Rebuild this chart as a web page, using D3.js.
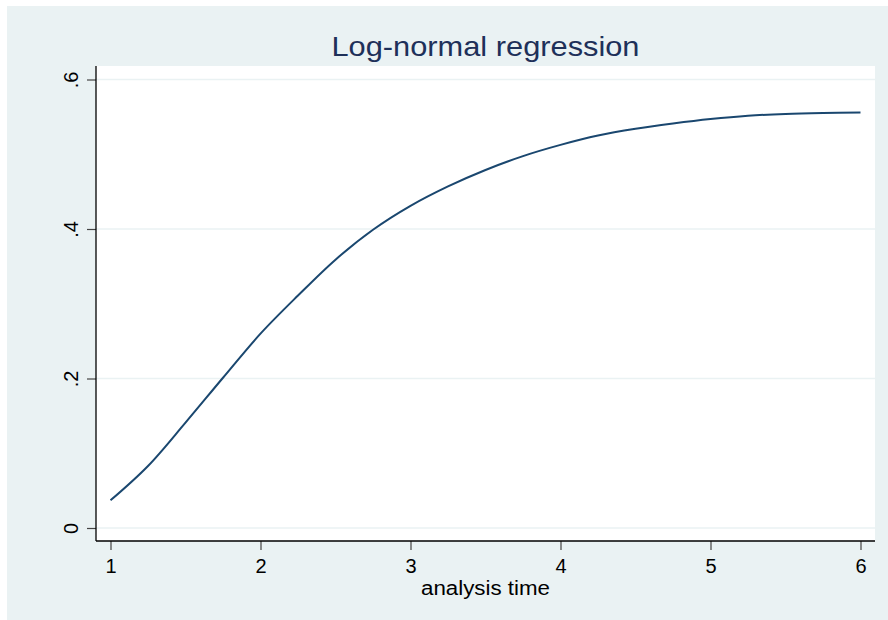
<!DOCTYPE html>
<html>
<head>
<meta charset="utf-8">
<script src="https://cdn.jsdelivr.net/npm/d3@7"></script>
<style>
  body { margin: 0; background: #fff; }
  svg { display: block; font-family: "Liberation Sans", Arial, sans-serif; }
</style>
</head>
<body>
<div id="chart"></div>
<script>
// datos
var tiempo = [1, 1.25, 1.5, 1.75, 2, 2.25, 2.5, 2.75, 3, 3.25, 3.5, 3.75, 4, 4.25, 4.5, 4.75, 5, 5.25, 5.5, 5.75, 6];
var prob = [0.037, 0.083, 0.141, 0.201, 0.26, 0.311, 0.359, 0.399, 0.431, 0.457, 0.479, 0.4975, 0.5125, 0.525, 0.534, 0.541, 0.547, 0.5515, 0.554, 0.5553, 0.556];
var xTicks = [1, 2, 3, 4, 5, 6];
var yTicks = [0, 0.2, 0.4, 0.6];
var yLabels = ["0", ".2", ".4", ".6"];
var titulo = "Log-normal regression";
var xTitulo = "analysis time";

var width = 888, height = 620;
var plot = {left: 96, right: 875, top: 66, bottom: 541};

var svg = d3.select("#chart").append("svg")
  .attr("width", width)
  .attr("height", height);

// fondo del grafico
svg.append("rect")
  .attr("x", 7).attr("y", 6)
  .attr("width", width - 7).attr("height", height - 6)
  .attr("fill", "#eaf2f3");

svg.append("rect")
  .attr("x", plot.left).attr("y", plot.top)
  .attr("width", plot.right - plot.left).attr("height", plot.bottom - plot.top)
  .attr("fill", "#fff");

var x = d3.scaleLinear().domain([1, 6]).range([110.5, 860.5]);
var y = d3.scaleLinear().domain([0, 0.6]).range([528, 79.5]);

// rejilla
svg.append("g").selectAll("line")
  .data(yTicks)
  .enter()
  .append("line")
  .attr("x1", plot.left).attr("x2", plot.right)
  .attr("y1", function(d) { return y(d); })
  .attr("y2", function(d) { return y(d); })
  .attr("stroke", "#eaf2f3")
  .attr("stroke-width", 1.5);

// eje x
var xAxis = d3.axisBottom(x).tickValues(xTicks).tickSize(9).tickPadding(9).tickFormat(d3.format("d"));
var gx = svg.append("g")
  .attr("transform", "translate(0," + plot.bottom + ")")
  .call(xAxis);
gx.select(".domain").remove();
gx.selectAll(".tick line").attr("stroke", "#444").attr("stroke-width", 1.2);
gx.selectAll(".tick text").attr("font-size", 20).attr("fill", "#000").attr("font-family", "Liberation Sans, Arial, sans-serif");

// eje y
var yAxis = d3.axisLeft(y).tickValues(yTicks).tickSize(9).tickPadding(8)
  .tickFormat(function(d, i) { return yLabels[i]; });
var gy = svg.append("g")
  .attr("transform", "translate(" + plot.left + ",0)")
  .call(yAxis);
gy.select(".domain").remove();
gy.selectAll(".tick line").attr("stroke", "#444").attr("stroke-width", 1.2);
gy.selectAll(".tick text")
  .attr("font-size", 20).attr("fill", "#000").attr("font-family", "Liberation Sans, Arial, sans-serif")
  .attr("x", null).attr("dy", null)
  .attr("text-anchor", "middle")
  .attr("transform", "translate(-18,0) rotate(-90)");

// lineas de ejes
svg.append("line")
  .attr("x1", plot.left).attr("x2", plot.left)
  .attr("y1", plot.top).attr("y2", plot.bottom)
  .attr("stroke", "#000").attr("stroke-width", 1.3);
svg.append("line")
  .attr("x1", plot.left).attr("x2", plot.right)
  .attr("y1", plot.bottom).attr("y2", plot.bottom)
  .attr("stroke", "#000").attr("stroke-width", 1.3);

// curva
var puntos = tiempo.map(function(t, i) { return [t, prob[i]]; });
var linea = d3.line()
  .x(function(d) { return x(d[0]); })
  .y(function(d) { return y(d[1]); })
  .curve(d3.curveCatmullRom);
svg.append("path")
  .datum(puntos)
  .attr("d", linea)
  .attr("fill", "none")
  .attr("stroke", "#1a476f")
  .attr("stroke-width", 2);

// titulos
svg.append("text")
  .attr("x", (plot.left + plot.right) / 2)
  .attr("y", 56)
  .attr("text-anchor", "middle")
  .attr("font-size", 28)
  .attr("textLength", 308)
  .attr("lengthAdjust", "spacingAndGlyphs")
  .attr("fill", "#1e3059")
  .text(titulo);

svg.append("text")
  .attr("x", (plot.left + plot.right) / 2)
  .attr("y", 595)
  .attr("text-anchor", "middle")
  .attr("font-size", 20)
  .attr("textLength", 129)
  .attr("lengthAdjust", "spacingAndGlyphs")
  .attr("fill", "#000")
  .text(xTitulo);
</script>
</body>
</html>
